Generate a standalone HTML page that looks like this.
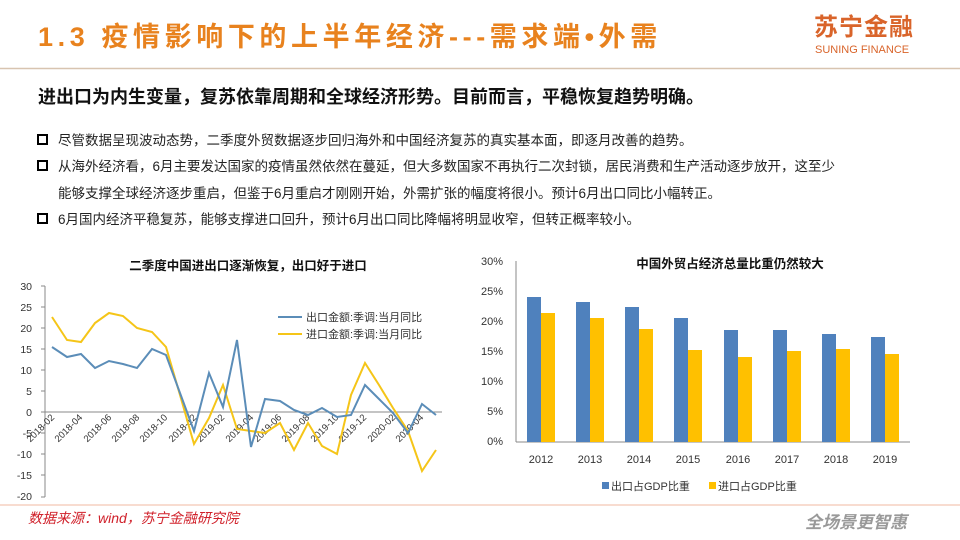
<!DOCTYPE html>
<html><head><meta charset="utf-8"><style>
body{margin:0;width:960px;height:540px;overflow:hidden;background:#fff;font-family:"Liberation Sans","Noto Sans CJK SC",sans-serif;}
</style></head><body>
<svg width="960" height="540" xmlns="http://www.w3.org/2000/svg" style="position:absolute;left:0;top:0;font-family:'Liberation Sans','Noto Sans CJK SC',sans-serif">
<text x="38" y="46" font-size="27" font-weight="bold" fill="#E8821E" letter-spacing="4.6">1.3 疫情影响下的上半年经济---需求端•外需</text>
<text x="814" y="35" font-size="24" font-weight="bold" fill="#D9642A" letter-spacing="1">苏宁金融</text>
<text x="815" y="53" font-size="11" fill="#D9642A">SUNING FINANCE</text>
<line x1="0" y1="68.5" x2="960" y2="68.5" stroke="#D8C4B0" stroke-width="1.5"/>
<text x="38" y="103" font-size="18" font-weight="bold" fill="#111">进出口为内生变量，复苏依靠周期和全球经济形势。目前而言，平稳恢复趋势明确。</text>
<g font-size="13.5" fill="#222">
<rect x="38" y="135" width="9" height="9" fill="none" stroke="#000" stroke-width="2"/>
<text x="58" y="145">尽管数据呈现波动态势，二季度外贸数据逐步回归海外和中国经济复苏的真实基本面，即逐月改善的趋势。</text>
<rect x="38" y="161" width="9" height="9" fill="none" stroke="#000" stroke-width="2"/>
<text x="58" y="171">从海外经济看，6月主要发达国家的疫情虽然依然在蔓延，但大多数国家不再执行二次封锁，居民消费和生产活动逐步放开，这至少</text>
<text x="58" y="198">能够支撑全球经济逐步重启，但鉴于6月重启才刚刚开始，外需扩张的幅度将很小。预计6月出口同比小幅转正。</text>
<rect x="38" y="214" width="9" height="9" fill="none" stroke="#000" stroke-width="2"/>
<text x="58" y="224">6月国内经济平稳复苏，能够支撑进口回升，预计6月出口同比降幅将明显收窄，但转正概率较小。</text>
</g>
<!-- left chart -->
<text x="248" y="270" font-size="12.5" font-weight="bold" fill="#111" text-anchor="middle">二季度中国进出口逐渐恢复，出口好于进口</text>
<g font-size="10.5" fill="#333" text-anchor="end">
<text x="32" y="290">30</text><text x="32" y="311">25</text><text x="32" y="332">20</text><text x="32" y="353">15</text><text x="32" y="374">10</text><text x="32" y="395">5</text><text x="32" y="416">0</text><text x="32" y="437">-5</text><text x="32" y="458">-10</text><text x="32" y="479">-15</text><text x="32" y="500">-20</text>
</g>
<line x1="45" y1="286" x2="45" y2="497" stroke="#888"/>
<g stroke="#888"><line x1="41" y1="286" x2="45" y2="286"/><line x1="41" y1="307" x2="45" y2="307"/><line x1="41" y1="328" x2="45" y2="328"/><line x1="41" y1="349" x2="45" y2="349"/><line x1="41" y1="370" x2="45" y2="370"/><line x1="41" y1="391" x2="45" y2="391"/><line x1="41" y1="412" x2="45" y2="412"/><line x1="41" y1="433" x2="45" y2="433"/><line x1="41" y1="454" x2="45" y2="454"/><line x1="41" y1="475" x2="45" y2="475"/><line x1="41" y1="497" x2="45" y2="497"/></g>
<line x1="45" y1="412" x2="442" y2="412" stroke="#888"/>
<g font-size="9.5" fill="#333" text-anchor="end">
<text transform="translate(55,418) rotate(-45)">2018-02</text>
<text transform="translate(83,418) rotate(-45)">2018-04</text>
<text transform="translate(112,418) rotate(-45)">2018-06</text>
<text transform="translate(140,418) rotate(-45)">2018-08</text>
<text transform="translate(168,418) rotate(-45)">2018-10</text>
<text transform="translate(197,418) rotate(-45)">2018-12</text>
<text transform="translate(225,418) rotate(-45)">2019-02</text>
<text transform="translate(254,418) rotate(-45)">2019-04</text>
<text transform="translate(282,418) rotate(-45)">2019-06</text>
<text transform="translate(310,418) rotate(-45)">2019-08</text>
<text transform="translate(339,418) rotate(-45)">2019-10</text>
<text transform="translate(367,418) rotate(-45)">2019-12</text>
<text transform="translate(396,418) rotate(-45)">2020-02</text>
<text transform="translate(424,418) rotate(-45)">2020-04</text>
</g>
<polyline fill="none" stroke="#F5C518" stroke-width="2" points="52,317 67,340 81,342 95,323 109,313 123,316 137,328 152,332 166,347 180,395 194,444 209,418 223,385 237,429 251,431 265,433 280,423 294,450 308,423 322,446 337,454 351,395 365,363 379,385 393,408 408,431 422,471 436,450"/>
<polyline fill="none" stroke="#5B8DB8" stroke-width="2" points="52,347 67,357 81,354 95,368 109,361 123,364 137,368 152,349 166,355 180,393 194,431 209,373 223,407 237,340 251,447 265,399 280,401 294,410 308,415 322,408 337,417 351,415 365,385 379,399 393,413 408,433 422,404 436,415"/>
<line x1="278" y1="317" x2="302" y2="317" stroke="#5B8DB8" stroke-width="2"/>
<text x="306" y="321" font-size="11" fill="#333">出口金额:季调:当月同比</text>
<line x1="278" y1="334" x2="302" y2="334" stroke="#F5C518" stroke-width="2"/>
<text x="306" y="338" font-size="11" fill="#333">进口金额:季调:当月同比</text>
<!-- right chart -->
<text x="730" y="268" font-size="12.5" font-weight="bold" fill="#111" text-anchor="middle">中国外贸占经济总量比重仍然较大</text>
<g font-size="11" fill="#333" text-anchor="end">
<text x="503" y="265">30%</text><text x="503" y="295">25%</text><text x="503" y="325">20%</text><text x="503" y="355">15%</text><text x="503" y="385">10%</text><text x="503" y="415">5%</text><text x="503" y="445">0%</text>
</g>
<line x1="516" y1="261" x2="516" y2="442" stroke="#888"/>
<line x1="516" y1="442" x2="910" y2="442" stroke="#888"/>
<g fill="#4F81BD">
<rect x="527" y="297" width="14" height="145"/><rect x="576" y="302" width="14" height="140"/><rect x="625" y="307" width="14" height="135"/><rect x="674" y="318" width="14" height="124"/><rect x="724" y="330" width="14" height="112"/><rect x="773" y="330" width="14" height="112"/><rect x="822" y="334" width="14" height="108"/><rect x="871" y="337" width="14" height="105"/>
</g>
<g fill="#FFC000">
<rect x="541" y="313" width="14" height="129"/><rect x="590" y="318" width="14" height="124"/><rect x="639" y="329" width="14" height="113"/><rect x="688" y="350" width="14" height="92"/><rect x="738" y="357" width="14" height="85"/><rect x="787" y="351" width="14" height="91"/><rect x="836" y="349" width="14" height="93"/><rect x="885" y="354" width="14" height="88"/>
</g>
<g font-size="11" fill="#333" text-anchor="middle">
<text x="541" y="463">2012</text><text x="590" y="463">2013</text><text x="639" y="463">2014</text><text x="688" y="463">2015</text><text x="738" y="463">2016</text><text x="787" y="463">2017</text><text x="836" y="463">2018</text><text x="885" y="463">2019</text>
</g>
<rect x="602" y="482" width="7" height="7" fill="#4F81BD"/>
<text x="611" y="490" font-size="11" fill="#333">出口占GDP比重</text>
<rect x="709" y="482" width="7" height="7" fill="#FFC000"/>
<text x="718" y="490" font-size="11" fill="#333">进口占GDP比重</text>
<line x1="0" y1="505" x2="960" y2="505" stroke="#F0B8A0" stroke-width="1"/>
<text x="28" y="523" font-size="14" font-style="italic" fill="#D0202A">数据来源：wind，苏宁金融研究院</text>
<text x="805" y="528" font-size="17" font-weight="bold" font-style="italic" fill="#999">全场景更智惠</text>
</svg>
</body></html>
